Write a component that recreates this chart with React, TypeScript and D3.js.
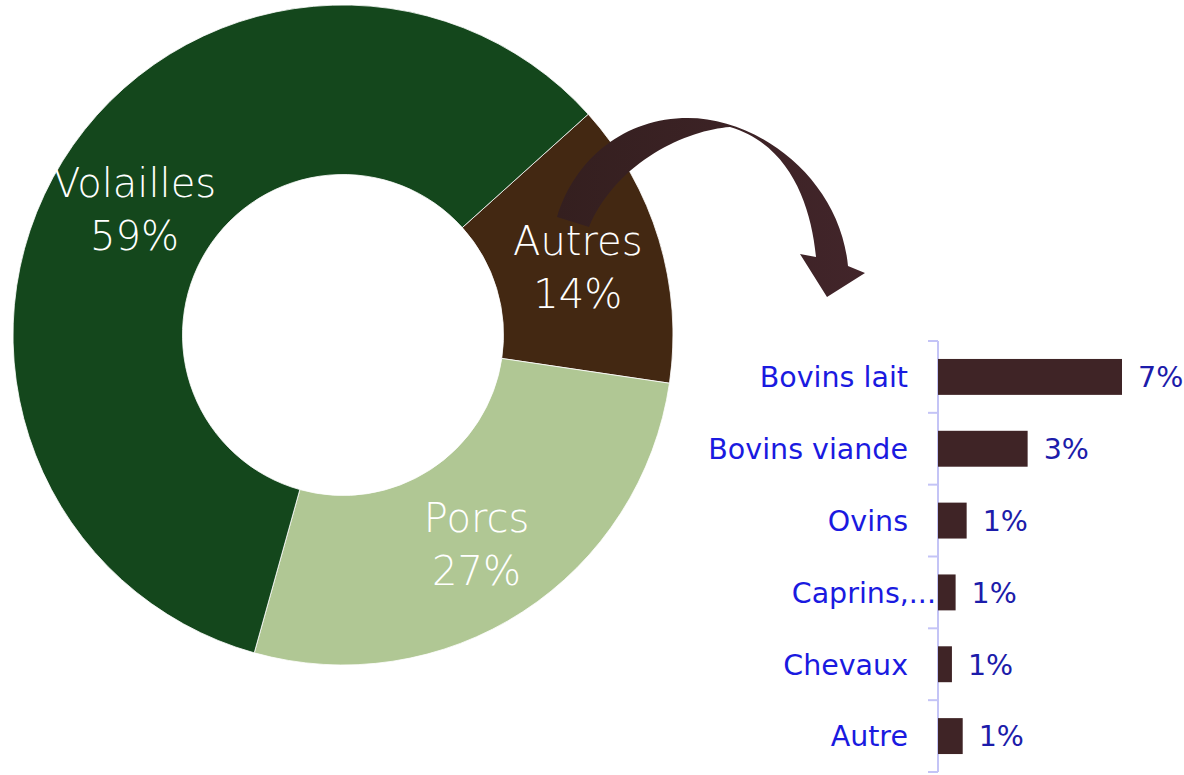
import React from "react";
import * as d3 from "d3";

const pieCategories = ["Autres", "Porcs", "Volailles"];
const pieValues = [14, 27, 59];
const pieColors = ["#432812", "#b0c794", "#14471c"];

const barCategories = ["Bovins lait", "Bovins viande", "Ovins", "Caprins,…", "Chevaux", "Autre"];
const barValues = [7.0, 3.41, 1.09, 0.67, 0.53, 0.94];
const barLabels = ["7%", "3%", "1%", "1%", "1%", "1%"];

const W = 1184;
const H = 775;
const FONT = "'DejaVu Sans', sans-serif";

export default function App() {
  const cx = 343, cy = 335, rOuter = 330, rInner = 160.5;
  const startDeg = 48;
  const pie = d3
    .pie<number>()
    .sort(null)
    .startAngle((startDeg * Math.PI) / 180)
    .endAngle(((startDeg + 360) * Math.PI) / 180);
  const arcs = pie(pieValues);
  const arc = d3.arc<d3.PieArcDatum<number>>().innerRadius(rInner).outerRadius(rOuter);

  const x = d3.scaleLinear().domain([0, 7]).range([938, 1122]);
  const y = d3.scaleBand<string>().domain(barCategories).range([341, 772]).paddingInner(0.5).paddingOuter(0.25);
  const yTicks = d3.scaleBand<string>().domain(barCategories).range([341, 772]);

  const arrow =
    "M557,217 C575,158 625,118 688,118 C760,118 840,180 848,266 L865,273 L827,297 L800,254 L816,257 C811,205 790,145 730,127 C688,130 618,160 589,227 Z";

  return (
    <svg width={W} height={H} style={{ position: "absolute", left: 0, top: 0 }}>
      <defs>
        <linearGradient id="arrowGrad" x1="0" x2="1" y1="0" y2="0">
          <stop offset="0" stopColor="#341f1f" />
          <stop offset="1" stopColor="#42252a" />
        </linearGradient>
      </defs>
      <rect width={W} height={H} fill="#ffffff" />
      <g transform={`translate(${cx},${cy})`}>
        {arcs.map((a, i) => (
          <path key={i} d={arc(a) || ""} fill={pieColors[i]} stroke="#ffffff" strokeWidth={0.8} />
        ))}
        {arcs.map((a, i) => {
          const [lx, ly] = arc.centroid(a);
          return (
            <text key={"t" + i} x={lx} y={ly} fill="#ffffff" fontFamily={FONT} fontWeight={200} fontSize={40} textAnchor="middle">
              <tspan x={lx} dy={-9}>{pieCategories[i]}</tspan>
              <tspan x={lx} dy={53}>{pieValues[i]}%</tspan>
            </text>
          );
        })}
      </g>
      <path d={arrow} fill="url(#arrowGrad)" />
      <line x1={938} x2={938} y1={341} y2={772} stroke="#c4c4f6" strokeWidth={2} />
      {barCategories.map((c, i) => (
        <line key={"tk" + i} x1={928} x2={938} y1={yTicks(c)!} y2={yTicks(c)!} stroke="#c4c4f6" strokeWidth={2} />
      ))}
      <line x1={928} x2={938} y1={772} y2={772} stroke="#c4c4f6" strokeWidth={2} />
      {barCategories.map((c, i) => {
        const truncated = c.endsWith("…");
        return (
          <g key={"b" + i}>
            <rect x={x(0)} y={y(c)!} width={x(barValues[i]) - x(0)} height={y.bandwidth()} fill="#3f2426" />
            <text
              x={truncated ? 936 : 908}
              y={y(c)! + y.bandwidth() / 2}
              dy="0.36em"
              textAnchor="end"
              fill="#1a1ae0"
              fontFamily={FONT}
              fontSize={28.5}
            >
              {truncated ? c.replace("…", "...") : c}
            </text>
            <text
              x={x(barValues[i]) + 16}
              y={y(c)! + y.bandwidth() / 2}
              dy="0.36em"
              textAnchor="start"
              fill="#1c1caa"
              fontFamily={FONT}
              fontSize={28.5}
            >
              {barLabels[i]}
            </text>
          </g>
        );
      })}
    </svg>
  );
}
